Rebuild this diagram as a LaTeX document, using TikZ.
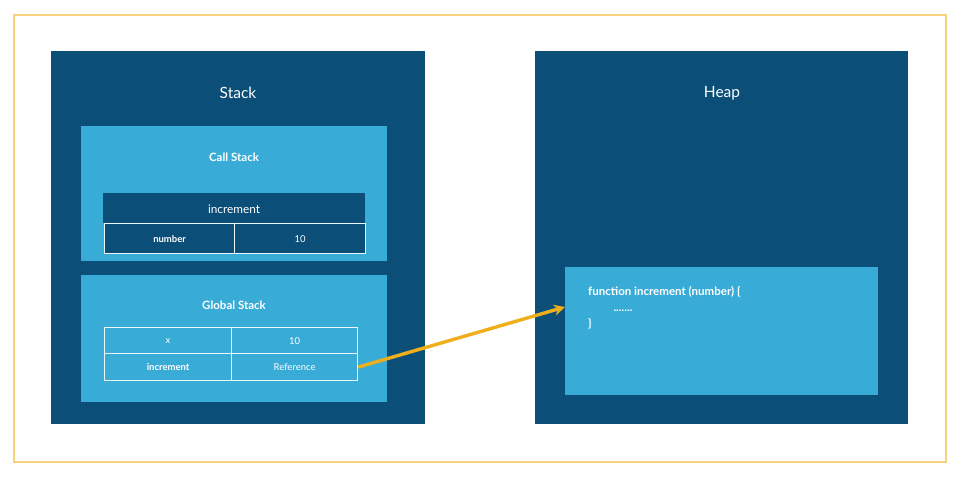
\documentclass[tikz,border=0pt]{standalone}
\usepackage{fontspec}
\setmainfont{Lato}
\usetikzlibrary{positioning, arrows.meta}
\definecolor{darkblue}{HTML}{0B4F79}
\definecolor{lightblue}{HTML}{38ABD7}
\definecolor{frameyellow}{HTML}{F7D47C}
\definecolor{arrowyellow}{HTML}{EFAF1D}
\tikzset{
    area/.style={draw=none, fill=darkblue, anchor=north west, inner sep=0pt},
    panel/.style={draw=none, fill=lightblue, anchor=north west, inner sep=0pt},
    cell/.style={draw=white!90!lightblue, line width=1.2pt, anchor=north west, inner sep=0pt, text=white, font=\fontsize{9.5}{11}\selectfont},
    title/.style={text=white}
}
\begin{document}
\begin{tikzpicture}[x=1pt, y=-1pt]
        \useasboundingbox (0,0) rectangle (960,476);
        \draw[frameyellow, line width=1.2pt] (14,15) rectangle (946,462);
        % stack side
        \node[area, minimum width=374pt, minimum height=373pt] (stack) at (51,51) {};
        \node[title, font=\fontsize{15.5}{17}\selectfont] (stacklabel) at (238,93) {Stack};
        \node[panel, minimum width=306pt, minimum height=135pt] (callstack) at (81,126) {};
        \node[title, font=\fontsize{11.5}{13}\selectfont\bfseries] (calllabel) at (234,157) {Call Stack};
        \node[area, minimum width=262pt, minimum height=30pt] (frame) at (103,193) {};
        \node[title, font=\fontsize{11.8}{13}\selectfont] (framelabel) at (234,209) {increment};
        \node[cell, fill=darkblue, minimum width=130pt, minimum height=30pt] (argname) at (104,223) {\bfseries number};
        \node[cell, fill=darkblue, minimum width=131pt, minimum height=30pt] (argvalue) at (234,223) {10};
        \node[panel, minimum width=306pt, minimum height=127pt] (globalstack) at (81,275) {};
        \node[title, font=\fontsize{11.5}{13}\selectfont\bfseries] (globallabel) at (234,305) {Global Stack};
        \node[cell, fill=lightblue, minimum width=127pt, minimum height=26pt] (xname) at (104,327) {x};
        \node[cell, fill=lightblue, minimum width=126pt, minimum height=26pt] (xvalue) at (231,327) {10};
        \node[cell, fill=lightblue, minimum width=127pt, minimum height=27pt] (fname) at (104,353) {\bfseries increment};
        \node[cell, fill=lightblue, minimum width=126pt, minimum height=27pt] (fvalue) at (231,353) {Reference};
        % heap side
        \node[area, minimum width=373pt, minimum height=373pt] (heap) at (535,51) {};
        \node[title, font=\fontsize{15.5}{17}\selectfont] (heaplabel) at (722,93) {Heap};
        \node[panel, minimum width=313pt, minimum height=128pt] (code) at (565,267) {};
        \node[title, anchor=north west, align=left, font=\fontsize{11.5}{16}\selectfont\bfseries, inner sep=0pt] (codetext) at (588,286) {function increment (number) \{\\\hspace{2.2em}.......\\\}};
        \coordinate (target) at (code.west |- 0,307);
        \draw[arrowyellow, line width=3.4pt, -{Stealth[length=11pt, width=11pt]}] (fvalue.east) -- (target);
    \end{tikzpicture}
\end{document}
